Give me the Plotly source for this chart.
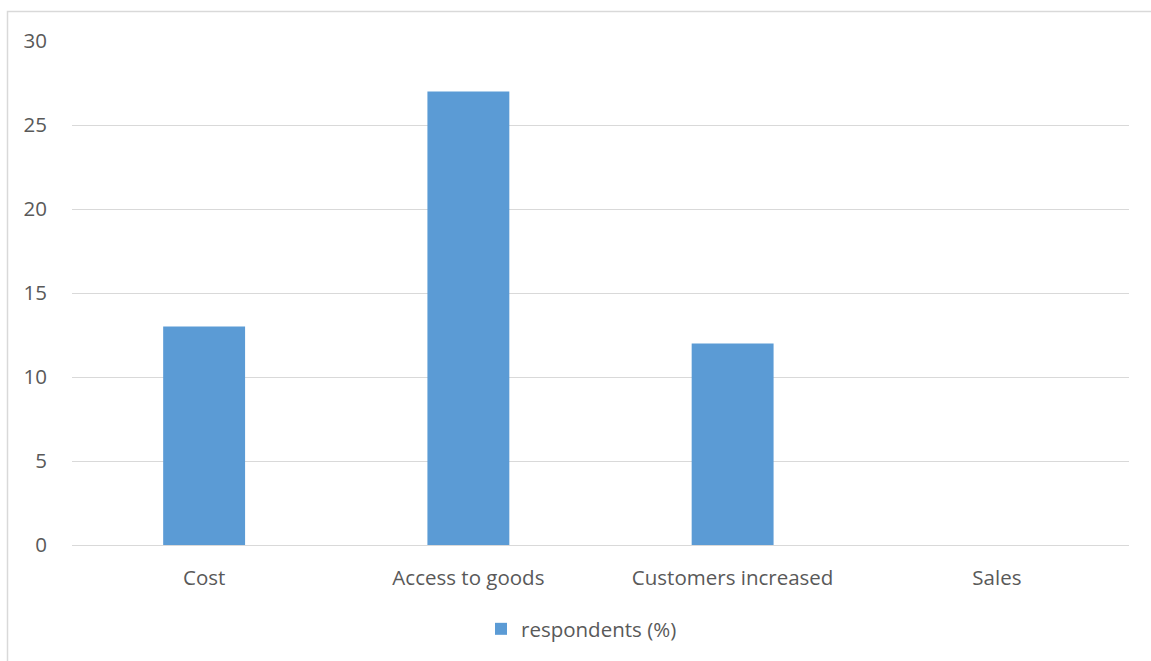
import plotly.graph_objects as go

# Survey results: share of respondents per reported benefit
categories = ["Cost", "Access to goods", "Customers increased", "Sales"]
respondents_pct = [13, 27, 12, 0]
series_name = "respondents (%)"
y_ticks = [0, 5, 10, 15, 20, 25, 30]

W, H = 1151, 661
ML, MR, MT, MB = 72, 22, 41, 116
pw, ph = W - ML - MR, H - MT - MB

def px_x(p):
    return (p - ML) / pw

def px_y(p):
    return (H - MB - p) / ph

fig = go.Figure()
fig.add_trace(go.Bar(
    x=categories,
    y=respondents_pct,
    name=series_name,
    marker=dict(color="#5b9bd5", line=dict(width=0)),
    showlegend=True,
))

font = dict(family="Open Sans, Calibri, sans-serif", size=20.5, color="#595959")

fig.update_layout(
    width=W, height=H,
    margin=dict(l=ML, r=MR, t=MT, b=MB, pad=0),
    paper_bgcolor="white",
    plot_bgcolor="white",
    font=font,
    bargap=0.69,
    showlegend=True,
    legend=dict(
        orientation="h",
        x=px_x(ML + pw / 2 - 19), xanchor="center",
        y=px_y(629), yanchor="middle",
        font=font,
        itemwidth=30,
    ),
    xaxis=dict(
        showgrid=False, showline=False, zeroline=False,
        ticks="", tickfont=font, ticklabelstandoff=18,
    ),
    yaxis=dict(
        range=[0, 30], tickvals=y_ticks,
        showgrid=True, gridcolor="#d9d9d9", gridwidth=1,
        zeroline=True, zerolinecolor="#d9d9d9", zerolinewidth=1,
        showline=False, ticks="", tickfont=font, ticklabelstandoff=24,
    ),
    shapes=[dict(
        type="rect", xref="paper", yref="paper",
        x0=px_x(7.5), x1=px_x(W + 10),
        y0=px_y(H + 10), y1=px_y(11.5),
        line=dict(color="#d9d9d9", width=1.5),
        fillcolor="rgba(0,0,0,0)", layer="below",
    )],
)

fig.write_html("out.html")
